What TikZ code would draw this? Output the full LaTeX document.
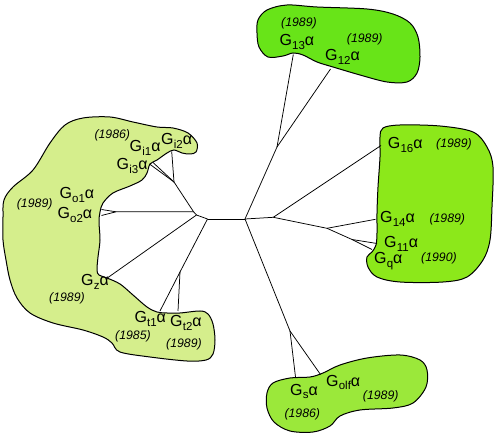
\documentclass[tikz,border=0pt]{standalone}
\usepackage{fontspec}
\setmainfont{Liberation Sans}
\definecolor{blobL}{RGB}{213,238,140}
\definecolor{blobT}{RGB}{104,228,24}
\definecolor{blobR}{RGB}{140,232,26}
\definecolor{blobB}{RGB}{155,232,58}
\newcommand{\gl}[1]{G\kern0.2pt\raisebox{-0.24em}{\fontsize{11.5}{11.5}\selectfont #1}α}
\begin{document}
\begin{tikzpicture}[x=1pt,y=-1pt,
  blob/.style={draw=black,line width=1pt},
  edge/.style={draw=black,line width=0.75pt},
  glab/.style={anchor=base west,inner sep=0pt,font=\fontsize{16}{16}\selectfont},
  ylab/.style={anchor=base west,inner sep=0pt,font=\fontsize{12.3}{12.3}\selectfont\itshape}]
\useasboundingbox (0,0) rectangle (495,435);
% blobs
\draw[blob,fill=blobL] plot[smooth cycle,tension=0.55] coordinates {
 (65,125) (83,118) (110,117) (133,122) (157,127) (173,128) (188,133) (197,143) (196,152)
 (190,154) (182,153) (174,150) (167,153) (157,160) (150,164) (147,173) (142,180) (130,186)
 (113,193) (103,203) (100,212) (99,222) (100,240) (98,257) (97,270) (99,275) (107,278)
 (120,284) (133,295) (147,307) (157,312) (167,313) (180,313) (200,311) (208,314) (213,324)
 (215,340) (213,354) (206,360) (187,361) (150,357) (120,352) (112,343) (103,337) (83,330)
 (53,323) (30,313) (17,298) (10,280) (6,260) (3,240) (3,217) (4,200) (13,187) (33,170)
 (50,143)};
\draw[blob,fill=blobT] plot[smooth cycle,tension=0.55] coordinates {
 (258,20) (267,10) (287,5) (317,7) (367,9) (393,14) (410,23) (418,37) (420,57) (417,73)
 (407,82) (387,82) (360,75) (333,67) (317,62) (303,55) (293,53) (283,56) (268,57)
 (259,47) (257,33)};
\draw[blob,fill=blobR] plot[smooth cycle,tension=0.55] coordinates {
 (383,128) (400,125) (440,126) (473,132) (487,147) (493,167) (492,207) (490,240) (483,260)
 (467,277) (443,282) (400,282) (377,277) (368,267) (367,257) (372,252) (376,245) (377,233)
 (377,213) (378,187) (380,157) (380,137)};
\draw[blob,fill=blobB] plot[smooth cycle,tension=0.55] coordinates {
 (267,393) (273,383) (290,378) (310,377) (323,373) (340,365) (367,358) (400,355) (420,360)
 (427,370) (426,387) (413,403) (393,408) (360,410) (340,416) (330,426) (313,432) (290,431)
 (274,422) (267,408)};
% tree coordinates
\coordinate (L) at (207.5,219);
\coordinate (R) at (245,219);
\coordinate (A2) at (196.5,215);
\coordinate (A1) at (193.5,211.7);
\coordinate (GoN) at (116,211.8);
\coordinate (Go1e) at (101.5,209.5);
\coordinate (Go2e) at (101.5,215.5);
\coordinate (GiN) at (174,182);
\coordinate (Gi3e) at (149.5,164);
\coordinate (Gi1e) at (153,162.5);
\coordinate (Gi2e) at (171.7,151.5);
\coordinate (Gze) at (108,277.5);
\coordinate (T) at (180,272);
\coordinate (Gt1e) at (160,311);
\coordinate (Gt2e) at (178,311);
\coordinate (U) at (277,147);
\coordinate (G13e) at (293.3,54.5);
\coordinate (G12e) at (330.5,69);
\coordinate (V) at (273.3,217.3);
\coordinate (G16e) at (381,145.5);
\coordinate (W) at (327,228.3);
\coordinate (G14e) at (375.5,219.3);
\coordinate (X) at (352,239.5);
\coordinate (G11e) at (377,243.5);
\coordinate (Gqe) at (372,249.5);
\coordinate (S) at (290,331);
\coordinate (Gse) at (295.5,377);
\coordinate (Golfe) at (320.5,374.5);
% edges
\draw[edge] (L) -- (R);
\draw[edge] (L) -- (A2);
\draw[edge] (A2) -- (A1);
\draw[edge] (A1) -- (GoN);
\draw[edge] (GoN) -- (Go1e);
\draw[edge] (GoN) -- (Go2e);
\draw[edge] (A1) -- (GiN);
\draw[edge] (GiN) -- (Gi3e);
\draw[edge] (GiN) -- (Gi1e);
\draw[edge] (GiN) -- (Gi2e);
\draw[edge] (A2) -- (Gze);
\draw[edge] (L) -- (T);
\draw[edge] (T) -- (Gt1e);
\draw[edge] (T) -- (Gt2e);
\draw[edge] (R) -- (U);
\draw[edge] (U) -- (G13e);
\draw[edge] (U) -- (G12e);
\draw[edge] (R) -- (V);
\draw[edge] (V) -- (G16e);
\draw[edge] (V) -- (W);
\draw[edge] (W) -- (G14e);
\draw[edge] (W) -- (X);
\draw[edge] (X) -- (G11e);
\draw[edge] (X) -- (Gqe);
\draw[edge] (R) -- (S);
\draw[edge] (S) -- (Gse);
\draw[edge] (S) -- (Golfe);
% labels left blob
\node[ylab] (y1986a) at (94.3,139) {(1986)};
\node[glab] (gi2) at (161,145) {\gl{i2}};
\node[glab] (gi1) at (129.5,151.8) {\gl{i1}};
\node[glab] (gi3) at (116.5,169.8) {\gl{i3}};
\node[glab] (go1) at (59.3,199) {\gl{o1}};
\node[glab] (go2) at (57.3,219) {\gl{o2}};
\node[ylab] (y1989a) at (16.7,207.3) {(1989)};
\node[glab] (gz) at (81,285.7) {\gl{z}};
\node[ylab] (y1989b) at (49,302) {(1989)};
\node[glab] (gt1) at (134.3,323) {\gl{t1}};
\node[glab] (gt2) at (170,326.7) {\gl{t2}};
\node[ylab] (y1985) at (115,340) {(1985)};
\node[ylab] (y1989c) at (166,348) {(1989)};
% top blob
\node[ylab] (y1989d) at (281,27) {(1989)};
\node[glab] (g13) at (279.3,46) {\gl{13}};
\node[ylab] (y1989e) at (346.7,43) {(1989)};
\node[glab] (g12) at (325,61) {\gl{12}};
% right blob
\node[glab] (g16) at (387.7,149) {\gl{16}};
\node[ylab] (y1989f) at (436,148) {(1989)};
\node[glab] (g14) at (380,222.3) {\gl{14}};
\node[ylab] (y1989g) at (429.3,223) {(1989)};
\node[glab] (g11) at (384,247.3) {\gl{11}};
\node[glab] (gq) at (374,264) {\gl{q}};
\node[ylab] (y1990) at (421,262) {(1990)};
% bottom blob
\node[glab] (gs) at (290,395) {\gl{s}};
\node[glab] (golf) at (326,386) {\gl{olf}};
\node[ylab] (y1989h) at (362.7,399) {(1989)};
\node[ylab] (y1986b) at (284.3,417) {(1986)};
\end{tikzpicture}
\end{document}
